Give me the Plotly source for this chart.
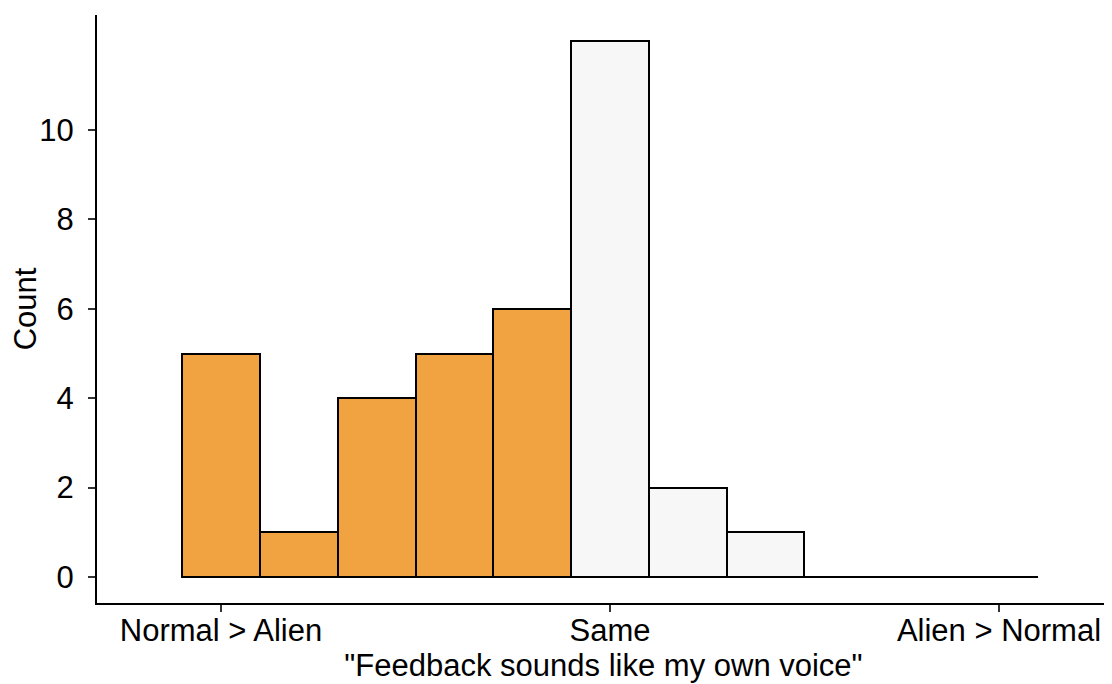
import plotly.graph_objects as go

# histogram of ratings, one bin per step from -5 to 5
bin_centers = [-5, -4, -3, -2, -1, 0, 1, 2, 3, 4, 5]
counts = [5, 1, 4, 5, 6, 12, 2, 1, 0, 0, 0]
tick_vals = [-5, 0, 5]
tick_text = ["Normal > Alien", "Same", "Alien > Normal"]
y_ticks = [0, 2, 4, 6, 8, 10]

ORANGE = "#F0A340"
GREY = "#F7F7F7"
bar_colors = [ORANGE if c < 0 else GREY for c in bin_centers]

fig = go.Figure()
fig.add_trace(go.Bar(
    x=bin_centers, y=counts, width=1,
    marker=dict(color=bar_colors, line=dict(color="black", width=2)),
    showlegend=False, hoverinfo="x+y",
))

# empty bins are drawn as a flat line at zero, like ggplot does
zero_bins = [c for c, n in zip(bin_centers, counts) if n == 0]
if zero_bins:
    fig.add_trace(go.Scatter(
        x=[min(zero_bins) - 0.5, max(zero_bins) + 0.5], y=[0, 0],
        mode="lines", line=dict(color="black", width=2),
        showlegend=False, hoverinfo="skip",
    ))

font = dict(family="Liberation Sans, Arial, sans-serif", size=31, color="black")

# page body has an 8px margin, so the figure is 8px smaller than the window
fig.update_layout(
    width=1104, height=676,
    margin=dict(l=89, r=2, t=7, b=81),
    plot_bgcolor="white", paper_bgcolor="white",
    font=font, bargap=0,
)
fig.update_xaxes(
    range=[-6.594, 6.427], tickvals=tick_vals, ticktext=tick_text,
    showline=True, linecolor="black", linewidth=2, showgrid=False, zeroline=False,
    ticks="outside", ticklen=7, tickwidth=2, tickcolor="#333333",
    tickfont=dict(size=31), ticklabelstandoff=-8, automargin=False,
    title=dict(text='"Feedback sounds like my own voice"', font=dict(size=31), standoff=6),
)
fig.update_yaxes(
    range=[-0.582, 12.573], tickvals=y_ticks,
    showline=True, linecolor="black", linewidth=2, showgrid=False, zeroline=False,
    ticks="outside", ticklen=7, tickwidth=2, tickcolor="#333333",
    tickfont=dict(size=31), ticklabelstandoff=8, automargin=False,
    title=dict(text="Count", font=dict(size=31), standoff=3),
)

fig.write_html("out.html")
